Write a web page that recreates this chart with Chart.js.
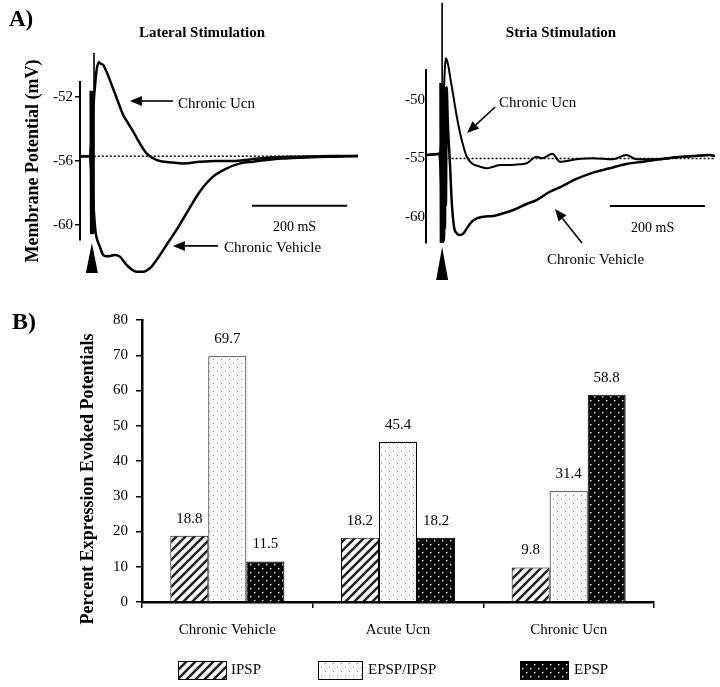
<!DOCTYPE html>
<html>
<head>
<meta charset="utf-8">
<script src="https://cdn.jsdelivr.net/npm/chart.js@4.4.1/dist/chart.umd.min.js"></script>
<style>
  body { margin: 0; background: #fff; }
  #wrap { position: relative; width: 720px; height: 687px; }
  canvas { position: absolute; }
</style>
</head>
<body>
<div id="wrap">
  <canvas id="latChart" width="360" height="290" style="left:0;top:0"></canvas>
  <canvas id="striaChart" width="360" height="290" style="left:360px;top:0"></canvas>
  <canvas id="barChart" width="720" height="397" style="left:0;top:290px"></canvas>
</div>
<script>
// ---- panel A: traces, time in ms from stimulus, potential in mV ----
const latUcnT = [-25, -15, -6, 6, 10, 14.7, 16.8, 23.9, 30.9, 37.9, 48.4, 58.9, 66, 76.5, 87, 101, 115, 129, 143, 170, 192, 227, 260, 297, 333, 368, 400, 438, 475, 508, 560];
const latUcnV = [-55.7, -55.7, -55.7, -51.5, -50.3, -49.83, -49.89, -50.0, -50.42, -50.94, -51.77, -52.6, -53.13, -53.65, -54.17, -54.9, -55.52, -55.83, -56.0, -56.1, -56.15, -56.05, -56.0, -56.0, -55.9, -55.8, -55.75, -55.73, -55.7, -55.69, -55.69];
const latVehT = [-25, -15, -6, 8, 12, 16.8, 23.9, 30, 37.9, 48.4, 59, 73, 94, 108, 122, 136, 157, 178, 199, 227, 255, 284, 312, 340, 368, 400, 438, 475, 508, 560];
const latVehV = [-55.7, -55.7, -55.7, -60.5, -61.0, -61.36, -61.88, -61.95, -61.94, -61.88, -61.98, -62.5, -62.92, -62.92, -62.71, -62.19, -61.25, -60.31, -59.27, -57.92, -56.98, -56.46, -56.15, -56.04, -55.94, -55.85, -55.79, -55.75, -55.73, -55.69];
const latArtT = [-2.5, -1.5, -0.5, 0.5, 1.5, 2.5];
const latArtV = [-51.6, -60.5, -51.6, -60.5, -51.6, -60.5];
const latThinT = [4.5, 4.5];
const latThinV = [-49.25, -60.5];
const latDotT = [4, 560];
const latDotV = [-55.7, -55.7];
const latBarT = [337, 537];
const latBarV = [-58.8, -58.8];
const latTicks = [-52, -56, -60];

const stUcnT = [-34, -20, -6, 3, 5.5, 7.7, 10, 13.3, 16.8, 23.9, 30.9, 37.9, 45, 52, 62.5, 80, 94, 108, 122, 143, 164, 178, 199, 210, 233, 241, 248, 283, 318, 360, 388, 410, 459, 494, 529, 564, 575];
const stUcnV = [-54.7, -54.65, -54.6, -50, -47.5, -46.44, -46.6, -47.15, -48.0, -49.72, -51.43, -52.85, -53.99, -54.85, -55.41, -55.7, -55.84, -55.7, -55.56, -55.56, -55.5, -55.41, -54.85, -54.98, -54.6, -54.98, -55.27, -55.07, -54.98, -55.07, -54.7, -55.07, -55.07, -54.9, -54.79, -54.7, -54.79];
const stVehT = [-34, -20, -6, 4, 5, 6, 7, 8, 9.5, 12, 16.8, 20, 25, 30.9, 36.5, 45, 52, 62.5, 73, 87, 108, 129, 150, 178, 199, 227, 248, 283, 318, 353, 388, 424, 459, 494, 529, 564, 575];
const stVehV = [-54.7, -54.65, -54.6, -62, -49.2, -61, -49, -59, -48.89, -52, -55.7, -58.55, -60.83, -61.39, -61.54, -61.39, -60.97, -60.4, -60.11, -59.97, -59.91, -59.68, -59.4, -58.89, -58.55, -57.84, -57.46, -56.75, -56.21, -55.84, -55.47, -55.27, -55.07, -54.9, -54.79, -54.7, -54.79];
const stArtT = [-3.5, -2.5, -1.5, -0.5, 0.5, 1.5];
const stArtV = [-48.55, -62.2, -48.55, -62.2, -48.55, -62.2];
const stThinT = [0, 0];
const stThinV = [-41.7, -62.2];
const stDotT = [3, 575];
const stDotV = [-55, -55];
const stBarT = [354, 554];
const stBarV = [-59.06, -59.06];
const stTicks = [-50, -55, -60];

// ---- panel B: bar chart ----
const groups = ['Chronic Vehicle', 'Acute Ucn', 'Chronic Ucn'];
const ipsp = [18.8, 18.2, 9.8];
const epspIpsp = [69.7, 45.4, 31.4];
const epsp = [11.5, 18.2, 58.8];
const barTicks = [0, 10, 20, 30, 40, 50, 60, 70, 80];
const seriesNames = ['IPSP', 'EPSP/IPSP', 'EPSP'];

const SERIF = '"Liberation Serif", "Times New Roman", serif';
Chart.defaults.font.family = SERIF;
Chart.defaults.color = '#000';

function drawArrow(ctx, x1, y1, x2, y2) {
  const a = Math.atan2(y2 - y1, x2 - x1), len = 12, hw = 5;
  const bx = x2 - len * Math.cos(a), by = y2 - len * Math.sin(a);
  ctx.lineWidth = 1.6;
  ctx.beginPath(); ctx.moveTo(x1, y1); ctx.lineTo(bx, by); ctx.stroke();
  ctx.beginPath();
  ctx.moveTo(x2, y2);
  ctx.lineTo(bx + hw * Math.sin(a), by - hw * Math.cos(a));
  ctx.lineTo(bx - hw * Math.sin(a), by + hw * Math.cos(a));
  ctx.closePath(); ctx.fill();
}

const traceNotes = {
  id: 'traceNotes',
  afterDatasetsDraw(chart, args, o) {
    const { ctx, chartArea } = chart;
    const x = chart.scales.x, y = chart.scales.y;
    ctx.save();
    ctx.fillStyle = '#000'; ctx.strokeStyle = '#000';
    ctx.textBaseline = 'middle';
    ctx.font = 'bold 15px ' + SERIF; ctx.textAlign = 'center';
    ctx.fillText(o.title, o.titleX, 33);
    if (o.panel) {
      ctx.font = 'bold 23px ' + SERIF; ctx.textAlign = 'left';
      ctx.fillText(o.panel, 9, 20);
      ctx.save();
      ctx.translate(33, (chartArea.top + chartArea.bottom) / 2);
      ctx.rotate(-Math.PI / 2);
      ctx.font = 'bold 18px ' + SERIF; ctx.textAlign = 'center';
      ctx.fillText('Membrane Potential (mV)', 0, 0);
      ctx.restore();
    }
    // stimulus marker
    const sx = x.getPixelForValue(0);
    ctx.beginPath();
    ctx.moveTo(sx, chartArea.bottom + o.tri[0]);
    ctx.lineTo(sx + 6, chartArea.bottom + o.tri[1]);
    ctx.lineTo(sx - 6, chartArea.bottom + o.tri[1]);
    ctx.closePath(); ctx.fill();
    // scale bar label
    ctx.font = '14px ' + SERIF; ctx.textAlign = 'center';
    const bx = (x.getPixelForValue(o.bar[0]) + x.getPixelForValue(o.bar[1])) / 2 - 5;
    ctx.fillText('200 mS', bx, y.getPixelForValue(o.barV) + 22);
    // labelled arrows
    ctx.font = '15px ' + SERIF; ctx.textAlign = 'left';
    o.notes.forEach(n => {
      drawArrow(ctx, x.getPixelForValue(n.from[0]), y.getPixelForValue(n.from[1]),
        x.getPixelForValue(n.to[0]), y.getPixelForValue(n.to[1]));
      ctx.fillText(n.text, x.getPixelForValue(n.at[0]), y.getPixelForValue(n.at[1]));
    });
    ctx.restore();
  }
};

function line(t, v, w, extra) {
  return Object.assign({
    data: t.map((tt, i) => ({ x: tt, y: v[i] })),
    borderColor: '#000', borderWidth: w, pointRadius: 0, fill: false, clip: false,
    cubicInterpolationMode: 'monotone'
  }, extra || {});
}

function traceChart(id, c) {
  return new Chart(document.getElementById(id), {
    type: 'line',
    data: {
      datasets: [
        line(c.ucn[0], c.ucn[1], c.ucnW),
        line(c.veh[0], c.veh[1], 2.5),
        line(c.art[0], c.art[1], 2.5, { cubicInterpolationMode: 'default', tension: 0 }),
        line(c.thin[0], c.thin[1], 1.6, { cubicInterpolationMode: 'default', tension: 0 }),
        line(c.dot[0], c.dot[1], 1.5, { borderDash: [2, 2], cubicInterpolationMode: 'default', tension: 0 }),
        line(c.bar[0], c.bar[1], 2, { cubicInterpolationMode: 'default', tension: 0 })
      ]
    },
    options: {
      responsive: false, animation: false, events: [],
      layout: { padding: c.pad },
      plugins: { legend: { display: false }, tooltip: { enabled: false }, traceNotes: c.notes },
      scales: {
        x: { type: 'linear', display: false, min: c.tRange[0], max: c.tRange[1] },
        y: {
          min: c.vRange[0], max: c.vRange[1],
          afterFit: s => { s.width = c.axisW; },
          afterBuildTicks: s => { s.ticks = c.ticks.map(v => ({ value: v })); },
          ticks: { font: { size: 15 }, color: '#000', padding: c.tickPad },
          grid: { drawOnChartArea: false, drawTicks: c.tickLen > 0, tickLength: c.tickLen, color: '#000', lineWidth: 1.5 },
          border: { color: '#000', width: 2 }
        }
      }
    },
    plugins: [traceNotes]
  });
}

traceChart('latChart', {
  ucn: [latUcnT, latUcnV], veh: [latVehT, latVehV], art: [latArtT, latArtV],
  thin: [latThinT, latThinV], dot: [latDotT, latDotV], bar: [latBarT, latBarV],
  ucnW: 2.5, tRange: [-25, 560], vRange: [-60.94, -51.06],
  pad: { left: 0, top: 82, right: 2, bottom: 50 }, axisW: 80,
  ticks: latTicks, tickLen: 5, tickPad: 2,
  notes: {
    title: 'Lateral Stimulation', titleX: 202, panel: 'A)', tri: [3, 33],
    bar: latBarT, barV: latBarV[0],
    notes: [
      { text: 'Chronic Ucn', from: [170.5, -52.25], to: [80, -52.25], at: [181, -52.44] },
      { text: 'Chronic Vehicle', from: [265.3, -61.31], to: [170.5, -61.31], at: [278, -61.44] }
    ]
  }
});

traceChart('striaChart', {
  ucn: [stUcnT, stUcnV], veh: [stVehT, stVehV], art: [stArtT, stArtV],
  thin: [stThinT, stThinV], dot: [stDotT, stDotV], bar: [stBarT, stBarV],
  ucnW: 2, tRange: [-34, 575], vRange: [-62.22, -47.44],
  pad: { left: 0, top: 70, right: 5, bottom: 47 }, axisW: 66,
  ticks: stTicks, tickLen: 0, tickPad: 1,
  notes: {
    title: 'Stria Stimulation', titleX: 201, panel: null, tri: [4, 37],
    bar: stBarT, barV: stBarV[0],
    notes: [
      { text: 'Chronic Ucn', from: [111.6, -50.6], to: [52.6, -52.82], at: [120, -50.26] },
      { text: 'Chronic Vehicle', from: [294.7, -62.22], to: [237.9, -59.32], at: [221, -63.68] }
    ]
  }
});

// ---- bar chart ----
const barCanvas = document.getElementById('barChart');
const barCtx = barCanvas.getContext('2d');

function makePattern(kind) {
  const c = document.createElement('canvas');
  const g = c.getContext('2d');
  if (kind === 'hatch') {
    c.width = c.height = 9;
    g.fillStyle = '#fff'; g.fillRect(0, 0, 9, 9);
    g.strokeStyle = '#222'; g.lineWidth = 2.6;
    g.beginPath();
    g.moveTo(-2, 11); g.lineTo(11, -2);
    g.moveTo(-2, 2); g.lineTo(2, -2);
    g.moveTo(7, 11); g.lineTo(11, 7);
    g.stroke();
  } else if (kind === 'light') {
    c.width = c.height = 8;
    g.fillStyle = '#fff'; g.fillRect(0, 0, 8, 8);
    g.fillStyle = '#8a8a8a';
    g.fillRect(1, 1, 1, 1); g.fillRect(5, 5, 1, 1);
  } else {
    c.width = c.height = 8;
    g.fillStyle = '#000'; g.fillRect(0, 0, 8, 8);
    g.fillStyle = '#fff';
    g.fillRect(2, 2, 1.4, 1.4); g.fillRect(6, 6, 1.4, 1.4);
  }
  return barCtx.createPattern(c, 'repeat');
}
const fills = [makePattern('hatch'), makePattern('light'), makePattern('dark')];

const barNotes = {
  id: 'barNotes',
  afterDatasetsDraw(chart) {
    const ctx = chart.ctx, area = chart.chartArea;
    ctx.save();
    ctx.fillStyle = '#000';
    ctx.textBaseline = 'middle';
    ctx.font = '15px ' + SERIF; ctx.textAlign = 'center';
    chart.data.datasets.forEach((ds, di) => {
      chart.getDatasetMeta(di).data.forEach((bar, i) => {
        ctx.fillText(ds.data[i].toFixed(1), bar.x, bar.y - 17);
      });
    });
    // panel letter and axis title
    ctx.font = 'bold 24px ' + SERIF; ctx.textAlign = 'left';
    ctx.fillText('B)', 12, 33);
    ctx.save();
    ctx.translate(88, (area.top + area.bottom) / 2 + 18);
    ctx.rotate(-Math.PI / 2);
    ctx.font = 'bold 18px ' + SERIF; ctx.textAlign = 'center';
    ctx.fillText('Percent Expression Evoked Potentials', 0, 0);
    ctx.restore();
    // legend
    const boxX = [178, 318, 520], boxW = [48, 44, 48], textX = [231, 368, 574];
    ctx.font = '15px ' + SERIF; ctx.textAlign = 'left';
    chart.data.datasets.forEach((ds, di) => {
      ctx.fillStyle = ds.backgroundColor;
      ctx.fillRect(boxX[di], 371, boxW[di], 18);
      ctx.strokeStyle = '#000'; ctx.lineWidth = 1;
      ctx.strokeRect(boxX[di] + 0.5, 371.5, boxW[di], 18);
      ctx.fillStyle = '#000';
      ctx.fillText(ds.label, textX[di], 380);
    });
    ctx.restore();
  }
};

new Chart(barCanvas, {
  type: 'bar',
  data: {
    labels: groups,
    datasets: [ipsp, epspIpsp, epsp].map((vals, i) => ({
      label: seriesNames[i], data: vals, backgroundColor: fills[i],
      borderColor: '#000', borderWidth: 1
    }))
  },
  options: {
    responsive: false, animation: false, events: [],
    barPercentage: 1, categoryPercentage: 0.668,
    layout: { padding: { left: 0, top: 30, right: 66, bottom: 40 } },
    plugins: { legend: { display: false }, tooltip: { enabled: false } },
    scales: {
      x: {
        afterFit: s => { s.height = 45; },
        ticks: { font: { size: 15 }, color: '#000', padding: 13 },
        grid: { drawOnChartArea: false, tickLength: 6, color: '#000', lineWidth: 1.5 },
        border: { color: '#000', width: 2.5 }
      },
      y: {
        min: 0, max: 80,
        afterFit: s => { s.width = 142; },
        afterBuildTicks: s => { s.ticks = barTicks.map(v => ({ value: v })); },
        ticks: { font: { size: 15 }, color: '#000', padding: 8 },
        grid: { drawOnChartArea: false, tickLength: 6, color: '#000', lineWidth: 1.5 },
        border: { color: '#000', width: 2.5 }
      }
    }
  },
  plugins: [barNotes]
});
</script>
</body>
</html>
